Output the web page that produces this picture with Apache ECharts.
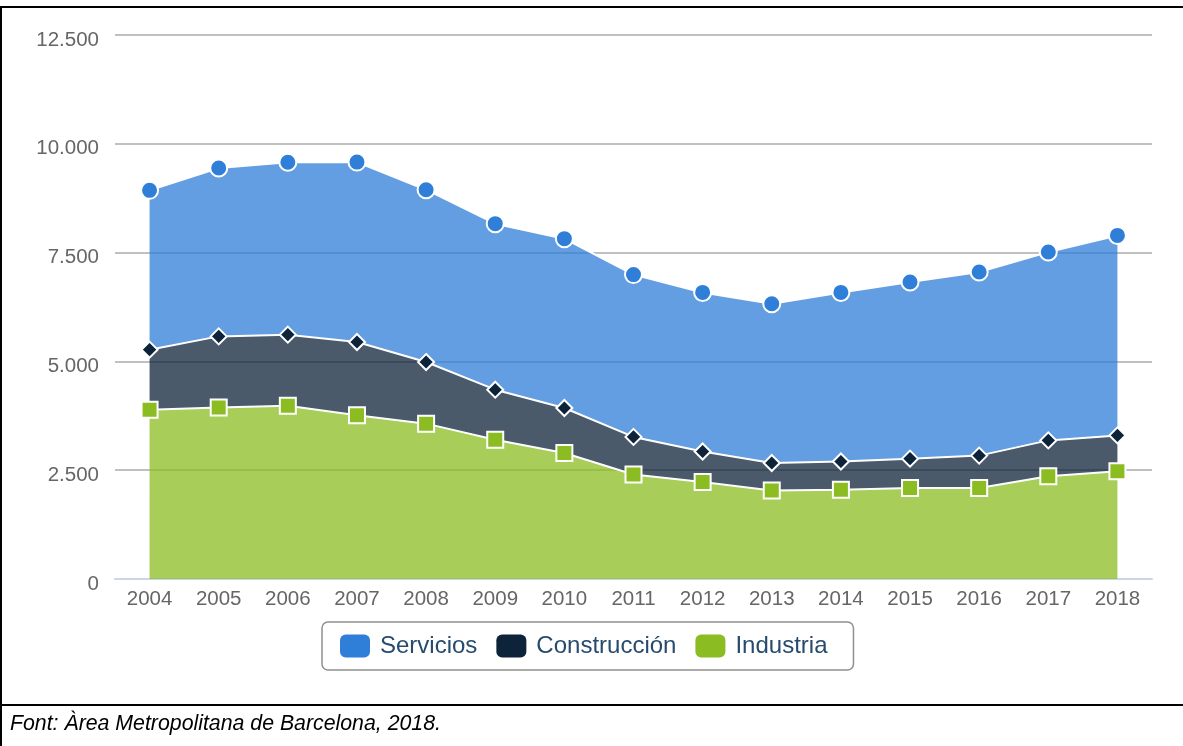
<!DOCTYPE html>
<html>
<head>
<meta charset="utf-8">
<title>Ocupació per sectors</title>
<script src="https://cdn.jsdelivr.net/npm/echarts@6/dist/echarts.min.js"></script>
<style>
  html, body { margin: 0; padding: 0; background: #fff; }
  #chart { width: 1183px; height: 746px; }
</style>
</head>
<body>
<div id="chart"></div>
<script>
// anys
const years = ['2004', '2005', '2006', '2007', '2008', '2009', '2010', '2011', '2012', '2013', '2014', '2015', '2016', '2017', '2018']
// valors per sector (apilats: industria a baix)
const industria = [3890, 3940, 3980, 3760, 3570, 3200, 2895, 2400, 2230, 2035, 2050, 2090, 2090, 2360, 2475]
const construccion = [1380, 1635, 1635, 1685, 1415, 1150, 1035, 865, 700, 630, 650, 675, 745, 825, 825]
const servicios = [3660, 3870, 3960, 4135, 3960, 3815, 3890, 3730, 3655, 3660, 3885, 4060, 4220, 4330, 4595]
const yTicks = [0, 2500, 5000, 7500, 10000, 12500]
const sourceText = 'Font: Àrea Metropolitana de Barcelona, 2018.'

const font = '"Liberation Sans", Arial, sans-serif'

function fmt(v) {
    return String(v).replace(/\B(?=(\d{3})+(?!\d))/g, '.')
}

function areaSeries(name, data, color, symbol, size) {
    return {
        name: name,
        type: 'line',
        stack: 'total',
        data: data,
        color: color,
        symbol: symbol,
        symbolSize: size,
        showAllSymbol: true,
        lineStyle: { color: '#fff', width: 2 },
        itemStyle: { color: color, borderColor: '#fff', borderWidth: 2 },
        areaStyle: { color: color, opacity: 0.75 },
        emphasis: { disabled: true },
        animation: false
    }
}

const myChart = echarts.init(document.getElementById('chart'), null, { renderer: 'canvas' })

myChart.setOption({
    backgroundColor: '#fff',
    animation: false,
    grid: { left: 115, right: 31, top: 35, bottom: 167 },
    legend: {
        data: ['Servicios', 'Construcción', 'Industria'],
        left: 322,
        top: 622,
        padding: [12, 26, 12, 18],
        itemGap: 19,
        itemWidth: 30,
        itemHeight: 23,
        icon: 'roundRect',
        itemStyle: { borderWidth: 0 },
        borderColor: '#909090',
        borderWidth: 1.5,
        borderRadius: 6,
        textStyle: { color: '#274b6d', fontSize: 24, lineHeight: 23, fontFamily: font, padding: [0, 0, 0, 5] },
        selectedMode: false
    },
    xAxis: {
        type: 'category',
        data: years,
        boundaryGap: true,
        axisLine: { lineStyle: { color: '#ccd6eb', width: 2 } },
        axisTick: { alignWithLabel: true, length: 8, lineStyle: { color: '#ccd6eb', width: 2 } },
        axisLabel: { color: '#666', fontSize: 20.5, fontFamily: font, margin: 10 },
        splitLine: { show: false }
    },
    yAxis: {
        type: 'value',
        min: yTicks[0],
        max: yTicks[yTicks.length - 1],
        interval: 2500,
        axisLine: { show: false },
        axisTick: { show: false },
        axisLabel: {
            color: '#666', fontSize: 20.5, fontFamily: font, margin: 16,
            verticalAlign: 'top', lineHeight: 10, formatter: fmt
        },
        splitLine: { lineStyle: { color: '#c0c0c0', width: 2 } }
    },
    series: [
        areaSeries('Industria', industria, '#8bbc21', 'rect', 16),
        areaSeries('Construcción', construccion, '#0d233a', 'diamond', 16),
        areaSeries('Servicios', servicios, '#2f7ed8', 'circle', 17)
    ],
    graphic: [
        { type: 'rect', shape: { x: 0, y: 6, width: 1183, height: 2 }, style: { fill: '#000' }, silent: true },
        { type: 'rect', shape: { x: 0, y: 6, width: 2, height: 740 }, style: { fill: '#000' }, silent: true },
        { type: 'rect', shape: { x: 0, y: 704, width: 1183, height: 2 }, style: { fill: '#000' }, silent: true },
        {
            type: 'text',
            left: 10,
            top: 714,
            style: { text: sourceText, fill: '#000', fontSize: 21.3, fontStyle: 'italic', fontFamily: font },
            silent: true
        }
    ]
})
</script>
</body>
</html>
